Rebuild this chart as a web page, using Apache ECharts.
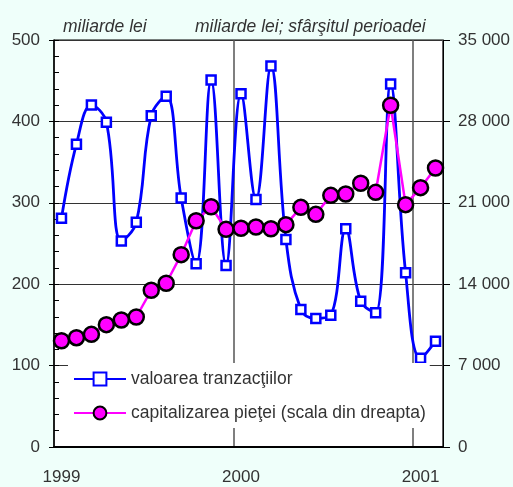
<!DOCTYPE html>
<html>
<head>
<meta charset="utf-8">
<script src="https://cdn.jsdelivr.net/npm/echarts@6/dist/echarts.min.js"></script>
<style>
  html, body { margin: 0; padding: 0; background: #effffa; }
  #chart { width: 513px; height: 487px; }
</style>
</head>
<body>
<div id="chart"></div>
<script>
const months = [
  '1999-01', '1999-02', '1999-03', '1999-04', '1999-05', '1999-06',
  '1999-07', '1999-08', '1999-09', '1999-10', '1999-11', '1999-12',
  '2000-01', '2000-02', '2000-03', '2000-04', '2000-05', '2000-06',
  '2000-07', '2000-08', '2000-09', '2000-10', '2000-11', '2000-12',
  '2001-01', '2001-02'
]
// miliarde lei (left scale)
const tradeValue = [
  281, 372, 420, 399, 253, 276, 407, 431, 306, 225, 451, 223,
  434, 304, 468, 255, 169, 158, 162, 268, 179, 165, 446, 214,
  109, 130
]
// miliarde lei, sfarsitul perioadei (right scale)
const marketCap = [
  9140, 9400, 9690, 10520, 10920, 11180, 13480, 14080, 16540, 19460, 20660, 18720,
  18810, 18920, 18770, 19120, 20610, 20010, 21640, 21760, 22680, 21900, 29390, 20840,
  22300, 23990
]
const yearLabels = { 0: '1999', 12: '2000', 24: '2001' }

const ink = '#333'
const font = 'Liberation Sans, Arial, sans-serif'

const chart = echarts.init(document.getElementById('chart'))
chart.setOption({
  backgroundColor: '#effffa',
  animation: false,
  textStyle: { fontFamily: font },
  title: [
    { text: 'miliarde lei', left: 58, top: 13,
      textStyle: { fontSize: 17.5, fontStyle: 'italic', fontWeight: 'normal', color: ink, fontFamily: font } },
    { text: 'miliarde lei; sfârşitul perioadei', left: 190, top: 13,
      textStyle: { fontSize: 17.5, fontStyle: 'italic', fontWeight: 'normal', color: ink, fontFamily: font } }
  ],
  grid: {
    left: 54, right: 70, top: 40, bottom: 40,
    show: true, backgroundColor: '#fff', borderColor: '#000', borderWidth: 1
  },
  legend: {
    orient: 'vertical',
    left: 68, top: 363,
    backgroundColor: '#fff',
    padding: [6, 4, 5, 5],
    itemWidth: 52, itemHeight: 16, itemGap: 14,
    textStyle: { fontSize: 17.5, color: ink, lineHeight: 20, fontFamily: font },
    data: ['valoarea tranzacţiilor', 'capitalizarea pieţei (scala din dreapta)']
  },
  xAxis: {
    type: 'category',
    data: months,
    boundaryGap: true,
    axisLine: { lineStyle: { color: '#000', width: 2 } },
    axisTick: { show: false },
    axisLabel: {
      interval: (i) => i in yearLabels,
      formatter: (v, i) => yearLabels[i] || '',
      fontSize: 17, color: ink, margin: 22
    },
    splitLine: {
      show: true,
      interval: (i) => i === 12 || i === 24,
      lineStyle: { color: '#555', width: 1.5 }
    }
  },
  yAxis: [
    {
      type: 'value', min: 0, max: 500, interval: 100, position: 'left',
      axisLine: { show: true, lineStyle: { color: '#000', width: 1.5 } },
      axisTick: { show: true, length: 5, lineStyle: { color: '#000' } },
      axisLabel: { fontSize: 17, color: ink, margin: 14 },
      splitLine: { show: true, lineStyle: { color: '#333', width: 1 } }
    },
    {
      type: 'value', min: 0, max: 35000, interval: 7000, position: 'right',
      axisLine: { show: true, lineStyle: { color: '#000', width: 1 } },
      axisTick: { show: true, length: 7, lineStyle: { color: '#000' } },
      axisLabel: {
        fontSize: 17, color: ink, margin: 15,
        formatter: (v) => v === 0 ? '0' : String(v).replace(/\B(?=(\d{3})+(?!\d))/g, ' ')
      },
      splitLine: { show: false }
    },
    {
      // minor ticks on the inside of the left axis
      type: 'value', min: 0, max: 500, interval: 20, position: 'left',
      axisLine: { show: false },
      axisTick: { show: true, inside: true, length: 5, lineStyle: { color: '#000' } },
      axisLabel: { show: false },
      splitLine: { show: false }
    }
  ],
  series: [
    {
      name: 'valoarea tranzacţiilor',
      type: 'line',
      yAxisIndex: 0,
      data: tradeValue,
      smooth: 0.4,
      showAllSymbol: true,
      symbol: 'rect',
      symbolSize: 9,
      lineStyle: { color: '#0000ff', width: 2.8 },
      itemStyle: { color: '#fff', borderColor: '#0000ff', borderWidth: 2.5 },
      z: 2
    },
    {
      name: 'capitalizarea pieţei (scala din dreapta)',
      type: 'line',
      yAxisIndex: 1,
      data: marketCap,
      showAllSymbol: true,
      symbol: 'circle',
      symbolSize: 15,
      lineStyle: { color: '#ff00ff', width: 2.5 },
      itemStyle: { color: '#ff00ff', borderColor: '#000', borderWidth: 2.5 },
      z: 3
    }
  ]
})
</script>
</body>
</html>
